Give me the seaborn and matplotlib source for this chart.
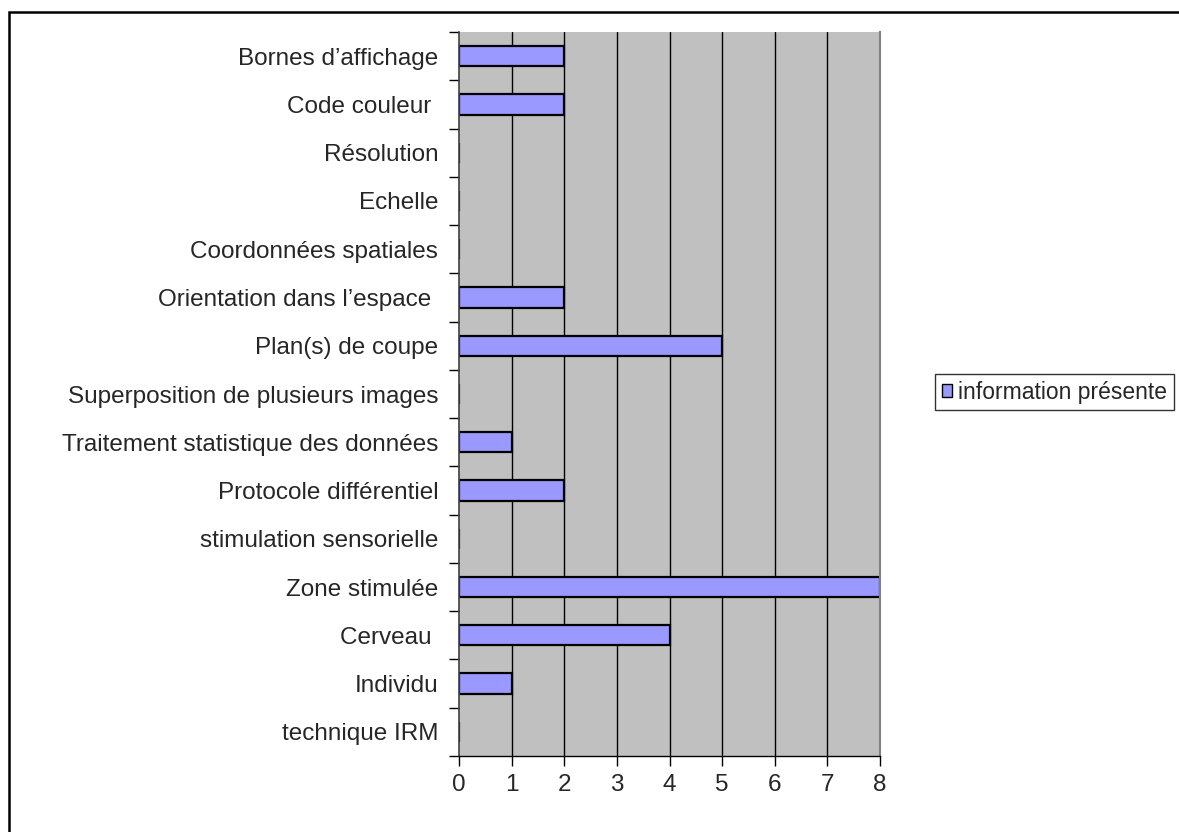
import matplotlib
matplotlib.use("Agg")
import matplotlib.pyplot as plt
import seaborn as sns
import pandas as pd
from matplotlib.patches import Patch, Rectangle
from matplotlib.ticker import FixedLocator

# Categories listed from top to bottom of the chart
categories = [
    "Bornes d\u2019affichage",
    "Code couleur ",
    "Résolution",
    "Echelle",
    "Coordonnées spatiales",
    "Orientation dans l\u2019espace ",
    "Plan(s) de coupe",
    "Superposition de plusieurs images",
    "Traitement statistique des données",
    "Protocole différentiel",
    "stimulation sensorielle",
    "Zone stimulée",
    "Cerveau ",
    "Individu",
    "technique IRM",
]
values = [2, 2, 0, 0, 0, 2, 5, 0, 1, 2, 0, 8, 4, 1, 0]
x_ticks = [0, 1, 2, 3, 4, 5, 6, 7, 8]
series_name = "information présente"

BAR_COLOR = "#9999FF"
PLOT_BG = "#C0C0C0"
FS = 17.5
LEG_FS = 16.5

sns.set_theme(style="white")
plt.rcParams["font.family"] = ["Liberation Sans", "DejaVu Sans"]

df = pd.DataFrame({"categorie": categories, "valeur": values})

fig = plt.figure(figsize=(11.79, 8.32), dpi=100)
ax = fig.add_axes([459 / 1179, 1 - 756 / 832, 421 / 1179, 724 / 832])
ax.set_facecolor(PLOT_BG)

sns.barplot(data=df, x="valeur", y="categorie", orient="h", order=categories,
            color=BAR_COLOR, edgecolor="black", linewidth=1.6, width=0.42,
            saturation=1, ax=ax)

ax.set_xlim(0, 8)
ax.set_ylim(len(categories) - 0.5, -0.5)
ax.set_xlabel("")
ax.set_ylabel("")

# vertical gridlines at each integer
ax.set_xticks(x_ticks)
ax.set_xticklabels([str(t) for t in x_ticks], fontsize=FS)
for t in x_ticks[1:-1]:
    ax.axvline(t, color="black", linewidth=1.0, zorder=0.5)
ax.set_axisbelow(True)

# category labels centred, tick marks at category boundaries
ax.set_yticks(range(len(categories)))
ax.set_yticklabels(categories, fontsize=FS)
ax.yaxis.set_minor_locator(FixedLocator([i - 0.5 for i in range(len(categories) + 1)]))
ax.tick_params(axis="y", which="major", length=0, pad=15)
ax.tick_params(axis="y", which="minor", length=7, width=1, color="black", left=True)
ax.tick_params(axis="x", which="major", length=7, width=1, color="black", bottom=True, pad=6)

ax.spines["top"].set_visible(False)
ax.spines["left"].set_color("#404040")
ax.spines["left"].set_linewidth(1.2)
ax.spines["bottom"].set_color("black")
ax.spines["bottom"].set_linewidth(1.0)
ax.spines["right"].set_color("#808080")
ax.spines["right"].set_linewidth(1.5)

# legend at right of the plot
handle = Patch(facecolor=BAR_COLOR, edgecolor="black", linewidth=1.0)
leg = fig.legend(handles=[handle], labels=[series_name], loc="center left",
                 bbox_to_anchor=(935 / 1179, 1 - 392 / 832), fontsize=LEG_FS,
                 frameon=True, fancybox=False, handlelength=0.45, handleheight=0.5,
                 handletextpad=0.25, borderpad=0.3, borderaxespad=0)
leg.get_frame().set_edgecolor("black")
leg.get_frame().set_linewidth(1.0)

# chart-area border
fig.patches.append(Rectangle((9.5 / 1179, -0.2), 1.2, 1 - 12 / 832 + 0.2,
                             transform=fig.transFigure, fill=False,
                             edgecolor="black", linewidth=1.8))

fig.savefig("out.png", dpi=100, facecolor="white")
